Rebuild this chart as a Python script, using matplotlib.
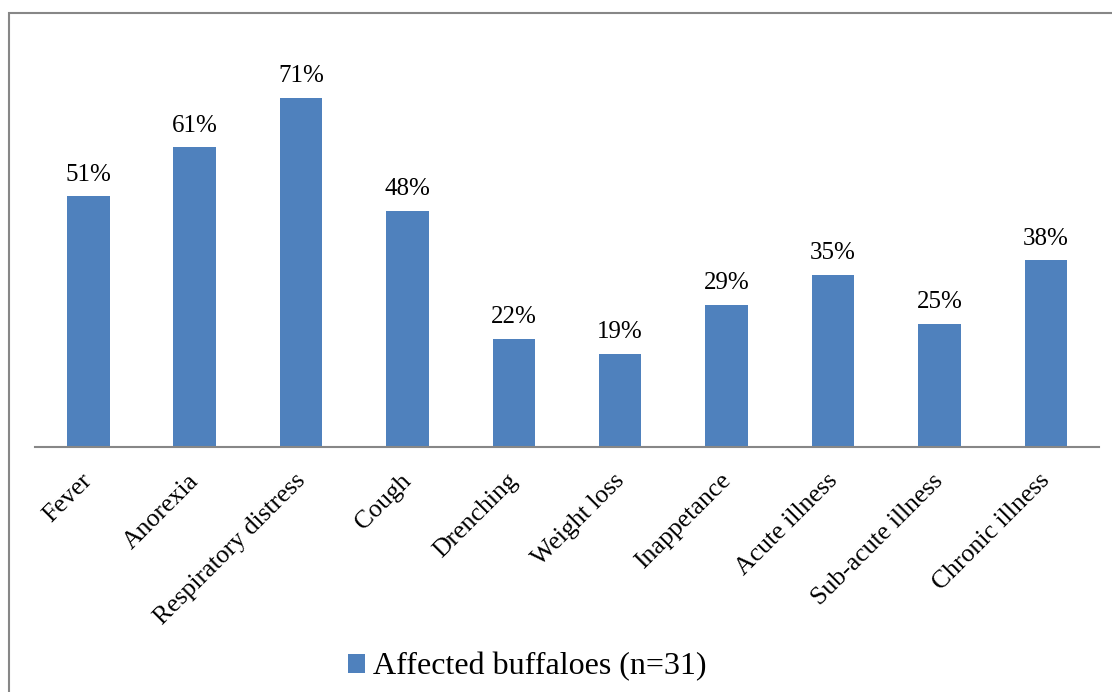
import matplotlib
matplotlib.use("Agg")
import matplotlib.pyplot as plt
import matplotlib.transforms as mtransforms
from matplotlib.patches import Rectangle
import numpy as np

categories = ["Fever", "Anorexia", "Respiratory distress", "Cough", "Drenching",
              "Weight loss", "Inappetance", "Acute illness", "Sub-acute illness",
              "Chronic illness"]
values = [51, 61, 71, 48, 22, 19, 29, 35, 25, 38]
series_name = "Affected buffaloes (n=31)"

plt.rcParams['font.family'] = ['Liberation Serif', 'DejaVu Serif']

fig = plt.figure(figsize=(11.12, 6.92), dpi=100)
ax = fig.add_axes([0.0315, 0.354, 0.9568, 0.568])

x = np.arange(len(categories))
bars = ax.bar(x, values, width=0.4, color='#4F81BD', label=series_name)

for xi, v in zip(x, values):
    ax.text(xi, v + 2.2, f"{v}%", ha='center', va='bottom', fontsize=18)

ax.set_xlim(-0.5, len(categories) - 0.5)
ax.set_ylim(0, 80)
ax.set_xticks(x)
ax.set_xticklabels(categories, rotation=45, ha='right', rotation_mode='anchor',
                   fontsize=18.5)
ax.tick_params(axis='x', length=0, pad=12)
# nudge the rotated labels a bit left/down
shift = mtransforms.ScaledTranslation(-7 / 100, -6 / 100, fig.dpi_scale_trans)
for lbl in ax.get_xticklabels():
    lbl.set_transform(lbl.get_transform() + shift)
ax.set_yticks([])
for side in ['top', 'right', 'left']:
    ax.spines[side].set_visible(False)
ax.spines['bottom'].set_color('#878787')
ax.spines['bottom'].set_linewidth(1.5)

fig.legend(handles=[bars], labels=[series_name], loc='center',
           bbox_to_anchor=(527 / 1112, 1 - 667 / 692), frameon=False,
           fontsize=23, handlelength=0.53, handleheight=0.53, handletextpad=0.25)

fig.add_artist(Rectangle((9 / 1112, -0.1), 1.2, 0.1 + (1 - 13 / 692),
                         transform=fig.transFigure, fill=False,
                         edgecolor='#878787', linewidth=1.5, clip_on=False))

fig.savefig("out.png", dpi=100)
